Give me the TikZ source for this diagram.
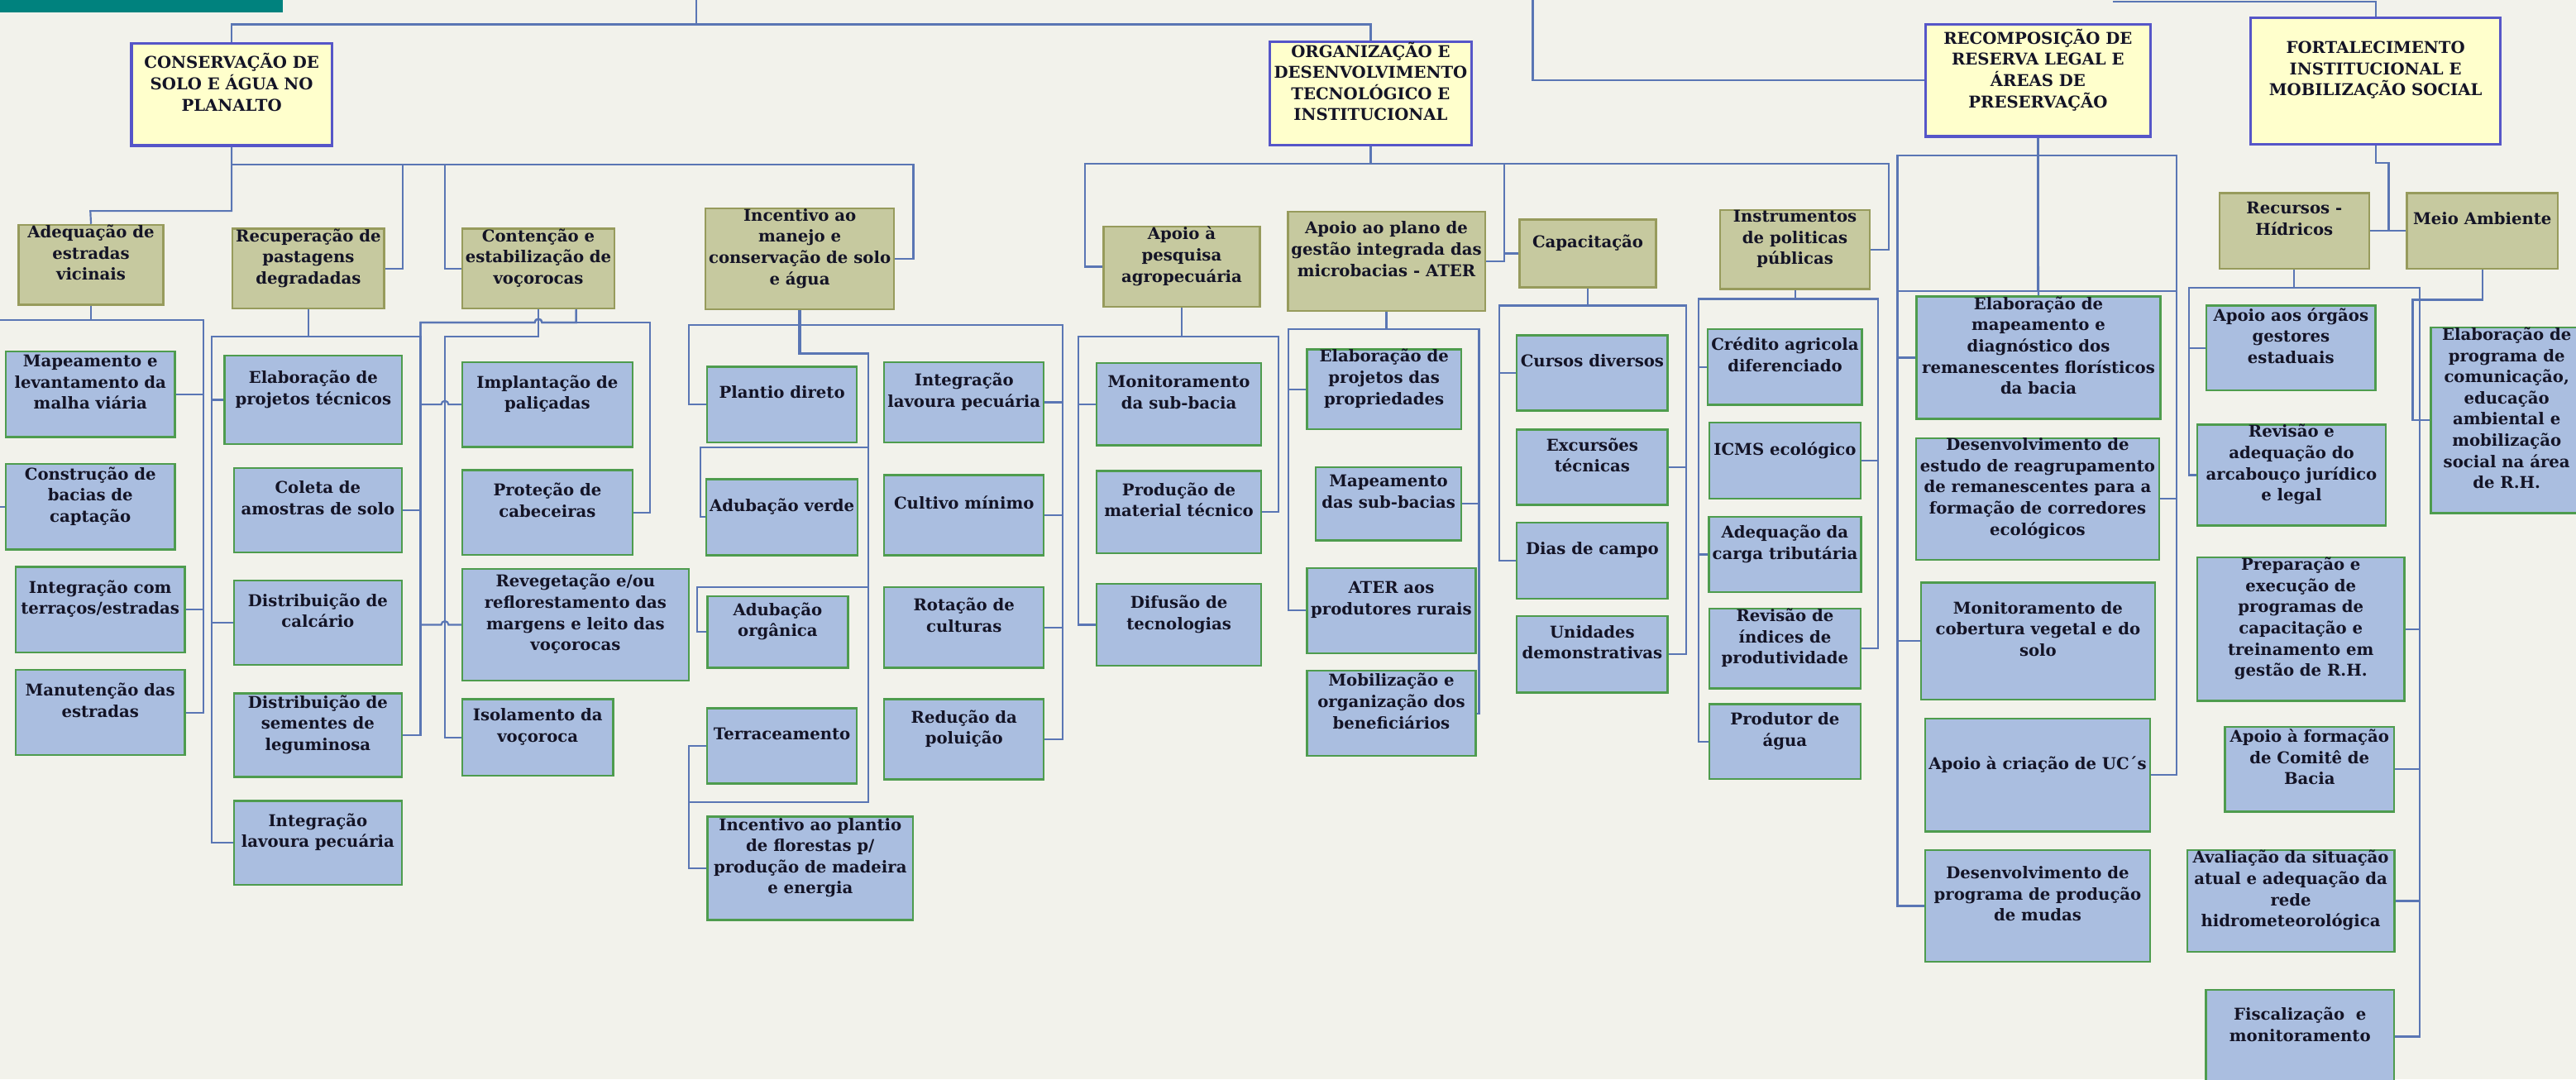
\documentclass[tikz,border=0pt]{standalone}
\usepackage{fontspec}
\setmainfont{DejaVu Serif}
\definecolor{bgc}{HTML}{F2F2EB}
\definecolor{barc}{HTML}{00827E}
\definecolor{lnc}{HTML}{5A76B4}
\definecolor{hdf}{HTML}{FFFFCC}
\definecolor{hdb}{HTML}{5656C8}
\definecolor{mdf}{HTML}{C6C99F}
\definecolor{mdb}{HTML}{979B5C}
\definecolor{lff}{HTML}{AABEE0}
\definecolor{lfb}{HTML}{4E9C4E}
\definecolor{txc}{HTML}{141426}

\begin{document}
\begin{tikzpicture}[x=1pt,y=-1pt,
  ln/.style={draw=lnc,line width=1.1pt},
  bx/.style={align=center,inner xsep=2pt,inner ysep=0pt,text=txc,
    font=\bfseries\fontsize{9.9}{12.9}\selectfont,
    execute at begin node={\rule{0pt}{7.5pt}},
    execute at end node={\rule[-15pt]{0pt}{0pt}}},
  hd/.style={bx,draw=hdb,fill=hdf,line width=1.7pt},
  md/.style={bx,draw=mdb,fill=mdf,line width=1.2pt},
  lf/.style={bx,draw=lfb,fill=lff,line width=1.2pt},
  sz/.style 2 args={minimum width=#1pt,minimum height=#2pt}]
                \useasboundingbox (0,0) rectangle (1568,657);
                \fill[bgc] (0,0) rectangle (1568,657);
                \fill[barc] (0,0) rectangle (172,7.5);
                \coordinate (t1) at (424,0);
                \coordinate (t2) at (933,0);
                \coordinate (t3) at (1286,1);
                \node[hd,sz={122}{62}](cons)at(141, 57.5){CONSERVAÇÃO DE\\SOLO E ÁGUA NO\\PLANALTO};
                \node[hd,sz={123}{62}](org)at(834.3, 57){ORGANIZAÇÃO E\\DESENVOLVIMENTO\\TECNOLÓGICO E\\INSTITUCIONAL};
                \node[hd,sz={137}{68}](rec)at(1240.5, 49){RECOMPOSIÇÃO DE\\RESERVA LEGAL E\\ÁREAS DE\\PRESERVAÇÃO};
                \node[hd,sz={152}{77}](fort)at(1446, 49.3){FORTALECIMENTO\\INSTITUCIONAL E\\MOBILIZAÇÃO SOCIAL};
                \node[md,sz={88}{44.5}](adq)at(55.4, 161.2){Adequação de\\estradas\\vicinais};
                \node[md,sz={91}{46}](rcp)at(187.7, 163.5){Recuperação de\\pastagens\\degradadas};
                \node[md,sz={91}{46}](cnt)at(327.7, 163.5){Contenção e\\estabilização de\\voçorocas};
                \node[md,sz={114}{57.5}](inc)at(486.8, 157.6){Incentivo ao\\manejo e\\conservação de solo\\e água};
                \node[md,sz={95}{48}](pq)at(719.3, 162.3){Apoio à\\pesquisa\\agropecuária};
                \node[md,sz={120}{60.4}](pl)at(843.9, 159){Apoio ao plano de\\gestão integrada das\\microbacias - ATER};
                \node[md,sz={83}{41.3}](cap)at(966.5, 154.3){Capacitação};
                \node[md,sz={91}{46.5}](ins)at(1092.6, 152){Instrumentos\\de politicas\\públicas};
                \node[md,sz={91}{46}](rh)at(1396.5, 140.5){Recursos -\\Hídricos};
                \node[md,sz={92}{46}](ma)at(1511, 140.5){Meio Ambiente};
                \node[lf,sz={103}{52}](ad1)at(55, 240){Mapeamento e\\levantamento da\\malha viária};
                \node[lf,sz={103}{52}](ad2)at(55, 308.5){Construção de\\bacias de\\captação};
                \node[lf,sz={103}{52}](ad3)at(61, 371){Integração com\\terraços/estradas};
                \node[lf,sz={103}{52}](ad4)at(61, 433.7){Manutenção das\\estradas};
                \node[lf,sz={108}{54}](rc1)at(190.7, 243.4){Elaboração de\\projetos técnicos};
                \node[lf,sz={102.4}{51.2}](rc2)at(193.5, 310.5){Coleta de\\amostras de solo};
                \node[lf,sz={102.4}{51.3}](rc3)at(193.5, 379){Distribuição de\\calcário};
                \node[lf,sz={102.4}{51}](rc4)at(193.5, 447.5){Distribuição de\\sementes de\\leguminosa};
                \node[lf,sz={102.4}{51}](rc5)at(193.5, 513){Integração\\lavoura pecuária};
                \node[lf,sz={103.5}{51.6}](ct1)at(333.2, 246.2){Implantação de\\paliçadas};
                \node[lf,sz={103.5}{51.7}](ct2)at(333.2, 312){Proteção de\\cabeceiras};
                \node[lf,sz={137.7}{68}](ct3)at(350.3, 380.3){Revegetação e/ou\\reflorestamento das\\margens e leito das\\voçorocas};
                \node[lf,sz={91.8}{46.5}](ct4)at(327.3, 448.9){Isolamento da\\voçoroca};
                \node[lf,sz={91}{46}](in1)at(476, 246.3){Plantio direto};
                \node[lf,sz={91}{46.4}](in2)at(476, 314.8){Adubação verde};
                \node[lf,sz={85.5}{43.4}](in3)at(473.4, 384.7){Adubação\\orgânica};
                \node[lf,sz={91}{45.7}](in4)at(476, 454){Terraceamento};
                \node[lf,sz={125}{63}](in5)at(493.2, 528.5){Incentivo ao plantio\\de florestas p/\\produção de madeira\\e energia};
                \node[lf,sz={97.2}{48.6}](in6)at(586.8, 244.9){Integração\\lavoura pecuária};
                \node[lf,sz={97.2}{48.8}](in7)at(586.8, 313.6){Cultivo mínimo};
                \node[lf,sz={97.2}{49}](in8)at(586.8, 381.9){Rotação de\\culturas};
                \node[lf,sz={97.2}{49}](in9)at(586.8, 450){Redução da\\poluição};
                \node[lf,sz={100}{50}](pq1)at(717.6, 246){Monitoramento\\da sub-bacia};
                \node[lf,sz={100}{50}](pq2)at(717.6, 311.6){Produção de\\material técnico};
                \node[lf,sz={100}{50}](pq3)at(717.6, 380.3){Difusão de\\tecnologias};
                \node[lf,sz={94}{48}](pl1)at(842.5, 236.9){Elaboração de\\projetos das\\propriedades};
                \node[lf,sz={88.5}{44.6}](pl2)at(845.2, 306.6){Mapeamento\\das sub-bacias};
                \node[lf,sz={102.6}{51.8}](pl3)at(846.9, 371.6){ATER aos\\produtores rurais};
                \node[lf,sz={102.6}{51.8}](pl4)at(846.9, 434.2){Mobilização e\\organização dos\\beneficiários};
                \node[lf,sz={91.8}{45.8}](cp1)at(969.2, 227.1){Cursos diversos};
                \node[lf,sz={91.8}{45.7}](cp2)at(969.2, 284.4){Excursões\\técnicas};
                \node[lf,sz={91.8}{46.3}](cp3)at(969.2, 341.2){Dias de campo};
                \node[lf,sz={91.8}{46.5}](cp4)at(969.2, 398.3){Unidades\\demonstrativas};
                \node[lf,sz={92}{46}](is1)at(1086.5, 223.4){Crédito agricola\\diferenciado};
                \node[lf,sz={92}{46.2}](is2)at(1086.5, 280.4){ICMS ecológico};
                \node[lf,sz={92}{45.8}](is3)at(1086.5, 337.5){Adequação da\\carga tributária};
                \node[lf,sz={92}{45.8}](is4)at(1086.5, 394.7){Revisão de\\índices de\\produtividade};
                \node[lf,sz={92}{45.6}](is5)at(1086.5, 451.5){Produtor de\\água};
                \node[lf,sz={148.4}{74.6}](re1)at(1240.8, 217.7){Elaboração de\\mapeamento e\\diagnóstico dos\\remanescentes florísticos\\da bacia};
                \node[lf,sz={147.8}{74.1}](re2)at(1240.3, 303.7){Desenvolvimento de\\estudo de reagrupamento\\de remanescentes para a\\formação de corredores\\ecológicos};
                \node[lf,sz={142.4}{71.2}](re3)at(1240.5, 390.2){Monitoramento de\\cobertura vegetal e do\\solo};
                \node[lf,sz={137}{68.8}](re4)at(1240.3, 471.8){Apoio à criação de UC´s};
                \node[lf,sz={137}{68.2}](re5)at(1240.3, 551.4){Desenvolvimento de\\programa de produção\\de mudas};
                \node[lf,sz={103}{51.6}](rh1)at(1394.5, 211.8){Apoio aos órgãos\\gestores\\estaduais};
                \node[lf,sz={114.5}{56.7}](rh2)at(1394.8, 289.2){Revisão e\\adequação do\\arcabouço jurídico\\e legal};
                \node[lf,sz={126}{85.7}](rh3)at(1400.5, 383){Preparação e\\execução de\\programas de\\capacitação e\\treinamento em\\gestão de R.H.};
                \node[lf,sz={103}{51.7}](rh4)at(1405.8, 468.2){Apoio à formação\\de Comitê de\\Bacia};
                \node[lf,sz={126}{62}](rh5)at(1394.4, 548.4){Avaliação da situação\\atual e adequação da\\rede\\hidrometeorológica};
                \node[lf,sz={114.5}{57}](rh6)at(1400, 631){Fiscalização~ e\\monitoramento};
                \node[lf,sz={92.5}{111.6}](ma1)at(1525.8, 255.8){Elaboração de\\programa de\\comunicação,\\educação\\ambiental e\\mobilização\\social na área\\de R.H.};
                \draw[ln] (t1) -- (424,14.8) -| (cons.north);
                \draw[ln] (t1) -- (424,14.8) -| (org.north);
                \draw[ln] (t2) |- (rec.west);
                \draw[ln] (t3) -| (fort.north);
                \draw[ln] (cons.south) |- (55,128.4) -- (adq.north);
                \draw[ln] (cons.south) |- (245,100) |- (rcp.east);
                \draw[ln] (cons.south) |- (271,100) |- (cnt.west);
                \draw[ln] (cons.south) |- (556,100) |- (inc.east);
                \draw[ln] (adq.south) |- (124,195) |- (ad1.east);
                \draw[ln] (adq.south) |- (-2,195) |- (ad2.west);
                \draw[ln] (adq.south) |- (124,195) |- (ad3.east);
                \draw[ln] (adq.south) |- (124,195) |- (ad4.east);
                \draw[ln] (rcp.south) |- (129,205) |- (rc1.west);
                \draw[ln] (rcp.south) |- (256,205) |- (rc2.east);
                \draw[ln] (rcp.south) |- (129,205) |- (rc3.west);
                \draw[ln] (rcp.south) |- (256,205) |- (rc4.east);
                \draw[ln] (rcp.south) |- (129,205) |- (rc5.west);
                \draw[ln] ([xshift=23pt]cnt.south) |- (329.9,196.3) arc[start angle=0,end angle=-180,radius=2.2] -- (256,196.3) |- (268.6,246.2) arc[start angle=180,end angle=360,radius=2.2] -- (ct1.west);
                \draw[ln] ([xshift=23pt]cnt.south) |- (395.5,196.3) |- (ct2.east);
                \draw[ln] ([xshift=23pt]cnt.south) |- (329.9,196.3) arc[start angle=0,end angle=-180,radius=2.2] -- (256,196.3) |- (268.6,380.3) arc[start angle=180,end angle=360,radius=2.2] -- (ct3.west);
                \draw[ln] (cnt.south) |- (270.8,205) |- (ct4.west);
                \draw[ln] (inc.south) |- (419.3,198) |- (in1.west);
                \draw[ln] (inc.south) |- (528.6,215.2) |- (426.4,272.3) |- (in2.west);
                \draw[ln] (inc.south) |- (528.6,215.2) |- (424.3,357.3) |- (in3.west);
                \draw[ln] (inc.south) |- (528.6,215.2) |- (419.3,488.2) |- (in4.west);
                \draw[ln] (inc.south) |- (528.6,215.2) |- (419.3,488.2) |- (in5.west);
                \draw[ln,line width=1.8pt] (inc.south) |- (528.6,215.2);
                \draw[ln] (inc.south) |- (646.7,198) |- (in6.east);
                \draw[ln] (inc.south) |- (646.7,198) |- (in7.east);
                \draw[ln] (inc.south) |- (646.7,198) |- (in8.east);
                \draw[ln] (inc.south) |- (646.7,198) |- (in9.east);
                \draw[ln] (org.south) |- (660.3,99.8) |- (pq.west);
                \draw[ln] (org.south) |- (915.5,99.8) |- (pl.east);
                \draw[ln] (org.south) |- (915.5,99.8) |- (cap.west);
                \draw[ln] (org.south) |- (1149.5,99.8) |- (ins.east);
                \draw[ln] (pq.south) |- (656.3,205) |- (pq1.west);
                \draw[ln] (pq.south) |- (778.3,205) |- (pq2.east);
                \draw[ln] (pq.south) |- (656.3,205) |- (pq3.west);
                \draw[ln] (pl.south) |- (784.3,200.5) |- (pl1.west);
                \draw[ln] (pl.south) |- (900.3,200.5) |- (pl2.east);
                \draw[ln] (pl.south) |- (784.3,200.5) |- (pl3.west);
                \draw[ln] (pl.south) |- (900.3,200.5) |- (pl4.east);
                \draw[ln] (cap.south) |- (912.4,186) |- (cp1.west);
                \draw[ln] (cap.south) |- (1026.3,186) |- (cp2.east);
                \draw[ln] (cap.south) |- (912.4,186) |- (cp3.west);
                \draw[ln] (cap.south) |- (1026.3,186) |- (cp4.east);
                \draw[ln] (ins.south) |- (1034,182) |- (is1.west);
                \draw[ln] (ins.south) |- (1143.2,182) |- (is2.east);
                \draw[ln] (ins.south) |- (1034,182) |- (is3.west);
                \draw[ln] (ins.south) |- (1143.2,182) |- (is4.east);
                \draw[ln] (ins.south) |- (1034,182) |- (is5.west);
                \draw[ln] (rec.south) -- (re1.north);
                \draw[ln] (rec.south) |- (1155,177) -- (1155,94.8);
                \draw[ln] (rec.south) |- (1325,177) -- (1325,94.8);
                \draw[ln] (rec.south) |- (1155,94.8) |- (re1.west);
                \draw[ln] (rec.south) |- (1325,94.8) |- (re2.east);
                \draw[ln] (rec.south) |- (1155,94.8) |- (re3.west);
                \draw[ln] (rec.south) |- (1325,94.8) |- (re4.east);
                \draw[ln] (rec.south) |- (1155,94.8) |- (re5.west);
                \draw[ln] (fort.south) |- (1454,99) |- (rh.east);
                \draw[ln] (fort.south) |- (1454,99) |- (ma.west);
                \draw[ln] (rh.south) |- (1332.2,175.3) |- (rh1.west);
                \draw[ln] (rh.south) |- (1332.2,175.3) |- (rh2.west);
                \draw[ln] (rh.south) |- (1472.7,175.3) |- (rh3.east);
                \draw[ln] (rh.south) |- (1472.7,175.3) |- (rh4.east);
                \draw[ln] (rh.south) |- (1472.7,175.3) |- (rh5.east);
                \draw[ln] (rh.south) |- (1472.7,175.3) |- (rh6.east);
                \draw[ln] (ma.south) |- (1468.6,182.5) |- (ma1.west);
            \end{tikzpicture}
\end{document}
